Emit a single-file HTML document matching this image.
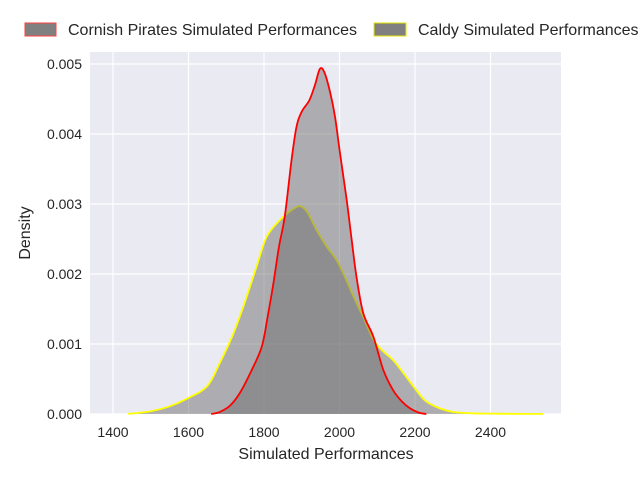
<!DOCTYPE html>
<html><head><meta charset="utf-8"><style>
body{margin:0;background:#fff;font-family:"Liberation Sans","DejaVu Sans",sans-serif}
svg text{font-family:"Liberation Sans","DejaVu Sans",sans-serif;fill:#262626}
</style></head><body>
<svg id="chart" width="640" height="480">
<rect x="90" y="52" width="471" height="362" fill="#eaeaf2"/>
<g id="grid"></g><g id="series"></g><g id="axes"></g>
<g>
<rect x="25" y="23" width="31" height="13" fill="#808080" stroke="#ff4040" stroke-width="1"/>
<text x="68" y="35" font-size="16">Cornish Pirates Simulated Performances</text>
<rect x="374" y="23" width="32" height="13" fill="#808080" stroke="#e6e600" stroke-width="1"/>
<text x="418" y="35" font-size="16">Caldy Simulated Performances</text>
</g>
<text x="326" y="459" font-size="16" text-anchor="middle">Simulated Performances</text>
<text transform="translate(30,233) rotate(-90)" font-size="16" text-anchor="middle">Density</text>
</svg>
<script>
const xTicks=[1400,1600,1800,2000,2200,2400];
const yTicks=[0,0.001,0.002,0.003,0.004,0.005];
const yTickLabels=["0.000","0.001","0.002","0.003","0.004","0.005"];
const caldyX=[1440,1500,1550,1600,1650,1683,1715,1745,1780,1807,1842,1870,1895,1915,1939,1965,1992,2015,2037,2065,2090,2115,2142,2170,2195,2225,2257,2300,2350,2400,2450,2540];
const caldyY=[0,0.00004,0.00011,0.00023,0.0004,0.00073,0.0011,0.00153,0.0021,0.00253,0.00277,0.0029,0.00297,0.00288,0.00263,0.0024,0.0022,0.00195,0.00168,0.00136,0.00106,0.0009,0.00077,0.00058,0.0004,0.0002,0.0001,0.00003,0.00001,0.000005,0.000003,0];
const cornishX=[1660,1683,1710,1736,1765,1794,1810,1825,1840,1855,1873,1886,1900,1920,1935,1948,1960,1975,1988,2002,2019,2032,2045,2063,2090,2116,2142,2165,2187,2210,2230];
const cornishY=[0,0.00003,0.00012,0.0003,0.0006,0.00096,0.0014,0.00187,0.0024,0.00282,0.00363,0.0041,0.00432,0.00448,0.0047,0.00493,0.00488,0.0046,0.00425,0.0037,0.00306,0.0025,0.00196,0.00144,0.0011,0.00063,0.00034,0.00018,0.00008,0.00002,0];
const X=v=>113+(v-1400)*0.3775, Y=v=>414-v*70000;
const NS="http://www.w3.org/2000/svg";
function mk(t,a,p){const e=document.createElementNS(NS,t);for(const k in a)e.setAttribute(k,a[k]);p.appendChild(e);return e;}
const grid=document.getElementById('grid'),axes=document.getElementById('axes'),ser=document.getElementById('series');
xTicks.forEach(t=>{
 const l=mk('line',{x1:X(t),x2:X(t),y1:52,y2:414,stroke:'#fff','stroke-width':1.2},grid);
 
 
 const tx=mk('text',{x:X(t),y:437,'font-size':14,'text-anchor':'middle'},axes);tx.textContent=t;
 
 
});
yTicks.forEach((t,i)=>{
 const l=mk('line',{x1:90,x2:561,y1:Y(t),y2:Y(t),stroke:'#fff','stroke-width':1.2},grid);
 
 
 const tx=mk('text',{x:82,y:Y(t)+5,'font-size':14,'text-anchor':'end'},axes);tx.textContent=yTickLabels[i];
 
 
});
function curve(xs,ys){
 const p=xs.map((x,i)=>[X(x),Y(ys[i])]);
 let d='M'+p[0][0]+','+p[0][1];
 for(let i=0;i<p.length-1;i++){
  const p0=p[Math.max(0,i-1)],p1=p[i],p2=p[i+1],p3=p[Math.min(p.length-1,i+2)];
  const c1=[p1[0]+(p2[0]-p0[0])/6,p1[1]+(p2[1]-p0[1])/6],c2=[p2[0]-(p3[0]-p1[0])/6,p2[1]-(p3[1]-p1[1])/6];
  d+=`C${c1[0]},${c1[1]} ${c2[0]},${c2[1]} ${p2[0]},${p2[1]}`;
 }
 return d;
}
function draw(xs,ys,col,name){
 const d=curve(xs,ys);
 const f=mk('path',{d:d+`L${X(xs[xs.length-1])},414L${X(xs[0])},414Z`,fill:'#707070','fill-opacity':0.5},ser);
 
 
 const l=mk('path',{d:d,fill:'none',stroke:col,'stroke-width':1.8},ser);
 
 
}
draw(caldyX,caldyY,'#ffff00','caldy-kde');
draw(cornishX,cornishY,'#ff0000','cornish-kde');
</script>
</body></html>
